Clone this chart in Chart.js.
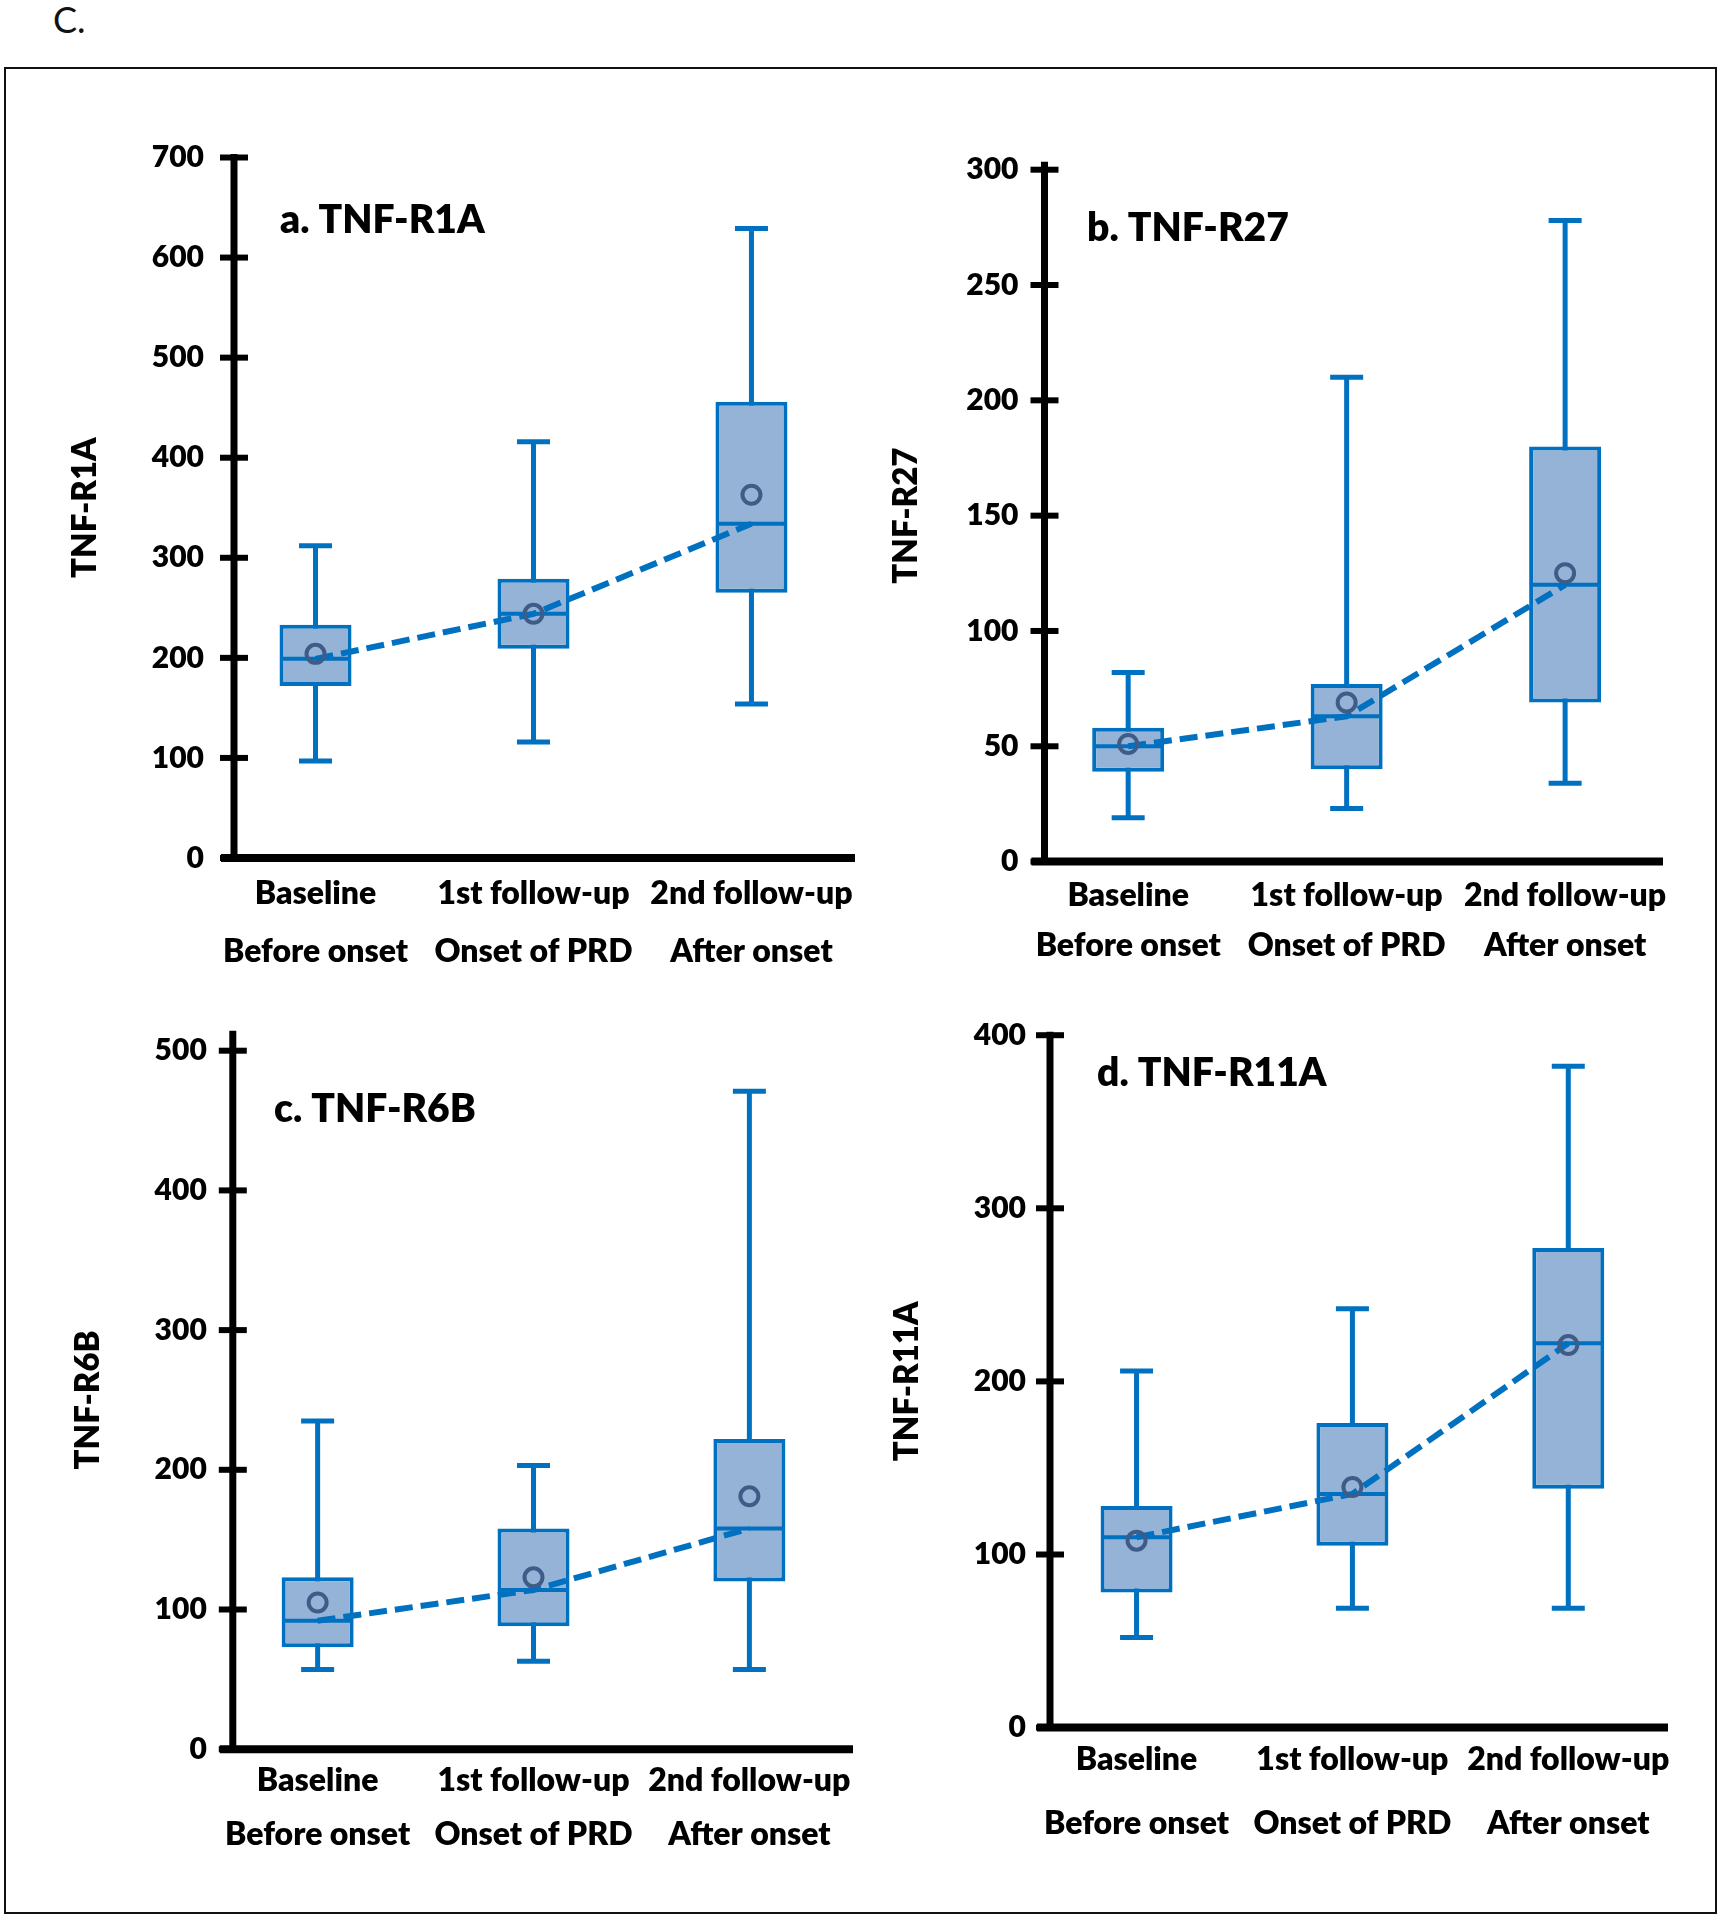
<!DOCTYPE html>
<html>
<head>
<meta charset="utf-8">
<title>TNF receptor box plots</title>
<script src="https://cdn.jsdelivr.net/npm/chart.js@4.4.1/dist/chart.umd.min.js"></script>
<style>
  body { margin: 0; background: #fff; }
  #page { position: relative; width: 1723px; height: 1920px; background: #fff; overflow: hidden; }
  .frame { position: absolute; left: 4px; top: 67px; width: 1713px; height: 1847px; border: 2.5px solid #111; box-sizing: border-box; }
  .fig-label { position: absolute; left: 53px; top: 1px; font: 36px/36px Lato, "Open Sans", sans-serif; color: #111; }
  canvas { position: absolute; }
</style>
</head>
<body>
<div id="page">
  <div class="fig-label">C.</div>
  <div class="frame"></div>
  <canvas id="chartA"></canvas>
  <canvas id="chartB"></canvas>
  <canvas id="chartC"></canvas>
  <canvas id="chartD"></canvas>
</div>
<script>
/* =========================================================
   DATA
========================================================= */
const categories = [
    ['Baseline', 'Before onset'],
    ['1st follow-up', 'Onset of PRD'],
    ['2nd follow-up', 'After onset']
];

// a. TNF-R1A
const r1aMin    = [97, 116, 154];
const r1aQ1     = [172, 209, 265];
const r1aMedian = [199, 244, 334];
const r1aQ3     = [233, 279, 456];
const r1aMax    = [312, 416, 629];
const r1aMean   = [204, 244, 363];
const r1aTicks  = [0, 100, 200, 300, 400, 500, 600, 700];

// b. TNF-R27
const r27Min    = [19, 23, 34];
const r27Q1     = [39, 40, 69];
const r27Median = [50, 63, 120];
const r27Q3     = [58, 77, 180];
const r27Max    = [82, 210, 278];
const r27Mean   = [51, 69, 125];
const r27Ticks  = [0, 50, 100, 150, 200, 250, 300];

// c. TNF-R6B
const r6bMin    = [57, 63, 57];
const r6bQ1     = [73, 88, 120];
const r6bMedian = [92, 114, 158];
const r6bQ3     = [123, 158, 222];
const r6bMax    = [235, 203, 471];
const r6bMean   = [105, 123, 181];
const r6bTicks  = [0, 100, 200, 300, 400, 500];

// d. TNF-R11A
const r11aMin    = [52, 69, 69];
const r11aQ1     = [78, 105, 138];
const r11aMedian = [110, 135, 222];
const r11aQ3     = [128, 176, 277];
const r11aMax    = [206, 242, 382];
const r11aMean   = [108, 139, 221];
const r11aTicks  = [0, 100, 200, 300, 400];

/* =========================================================
   STYLE
========================================================= */
const BLUE = '#0070c0';
const BOX_FILL = '#95b3d7';
const MEAN_COLOR = '#3f5b87';
const FONT = 'Lato, "Open Sans", sans-serif';
const WEIGHT = '800';

Chart.defaults.font.family = FONT;
Chart.defaults.color = '#000';

// layout of each panel in page pixels
const panels = [
    {
        id: 'chartA', title: 'a. TNF-R1A', yTitle: 'TNF-R1A',
        min: r1aMin, q1: r1aQ1, median: r1aMedian, q3: r1aQ3, max: r1aMax, mean: r1aMean, ticks: r1aTicks,
        canvas: [10, 75, 900, 910], area: [234, 157.5, 855, 858], xRange: [-0.374, 2.475],
        titleAt: [280, 220], yTitleX: 85.5, tickPad: 30, labelPad: 7, lineH: 57.5, overhang: 3.5
    },
    {
        id: 'chartB', title: 'b. TNF-R27', yTitle: 'TNF-R27',
        min: r27Min, q1: r27Q1, median: r27Median, q3: r27Q3, max: r27Max, mean: r27Mean, ticks: r27Ticks,
        canvas: [875, 75, 845, 910], area: [1044.5, 169.7, 1663, 861.6], xRange: [-0.383, 2.448],
        titleAt: [1087, 228], yTitleX: 906.5, tickPad: 26, labelPad: 9, lineH: 50, overhang: 8
    },
    {
        id: 'chartC', title: 'c. TNF-R6B', yTitle: 'TNF-R6B',
        min: r6bMin, q1: r6bQ1, median: r6bMedian, q3: r6bQ3, max: r6bMax, mean: r6bMean, ticks: r6bTicks,
        canvas: [10, 990, 900, 915], area: [232.8, 1050.7, 853, 1749.2], xRange: [-0.393, 2.480],
        titleAt: [274, 1109], yTitleX: 88, tickPad: 26, labelPad: 4, lineH: 54, overhang: 20
    },
    {
        id: 'chartD', title: 'd. TNF-R11A', yTitle: 'TNF-R11A',
        min: r11aMin, q1: r11aQ1, median: r11aMedian, q3: r11aQ3, max: r11aMax, mean: r11aMean, ticks: r11aTicks,
        canvas: [875, 990, 845, 915], area: [1050, 1035.2, 1668, 1727.6], xRange: [-0.401, 2.462],
        titleAt: [1097, 1073], yTitleX: 907, tickPad: 24, labelPad: 0, lineH: 64, overhang: 3.5
    }
];

/* =========================================================
   PLUGIN: axes with crossing ticks + panel title
========================================================= */
const panelDecor = {
    id: 'panelDecor',
    afterDatasetsDraw(chart, args, opts) {
        const { ctx, chartArea: ca, scales: { y } } = chart;
        ctx.save();
        ctx.strokeStyle = '#000';
        ctx.lineCap = 'butt';

        // y axis
        ctx.lineWidth = 7;
        ctx.beginPath();
        ctx.moveTo(ca.left, y.getPixelForValue(y.max) - opts.overhang);
        ctx.lineTo(ca.left, ca.bottom);
        ctx.stroke();

        // tick marks across the axis
        ctx.lineWidth = 6;
        y.ticks.forEach(t => {
            const py = y.getPixelForValue(t.value);
            ctx.beginPath();
            ctx.moveTo(ca.left - 14, py);
            ctx.lineTo(ca.left + 14, py);
            ctx.stroke();
        });

        // x axis
        ctx.lineWidth = 8;
        ctx.beginPath();
        ctx.moveTo(ca.left - 13, ca.bottom);
        ctx.lineTo(ca.right, ca.bottom);
        ctx.stroke();

        // panel title
        ctx.fillStyle = '#000';
        ctx.font = WEIGHT + ' 39px ' + FONT;
        ctx.textAlign = 'left';
        ctx.textBaseline = 'middle';
        ctx.fillText(opts.title, opts.x, opts.y);
        ctx.restore();
    }
};

/* =========================================================
   BUILD CHARTS
========================================================= */
panels.forEach(p => {
    const [cl, ct, cw, chh] = p.canvas;
    const [al, at, ar, ab] = p.area;
    const canvas = document.getElementById(p.id);
    canvas.width = cw;
    canvas.height = chh;
    canvas.style.left = cl + 'px';
    canvas.style.top = ct + 'px';

    const idx = [0, 1, 2];
    const pts = arr => idx.map(i => ({ x: i, y: arr[i] }));
    const titleFont = { size: 33, weight: WEIGHT, lineHeight: 1.2 };

    new Chart(canvas, {
        type: 'bar',
        data: {
            datasets: [
                {   // means
                    type: 'scatter',
                    data: pts(p.mean),
                    pointStyle: 'circle',
                    pointRadius: 9,
                    borderWidth: 4,
                    borderColor: MEAN_COLOR,
                    backgroundColor: 'rgba(0,0,0,0)',
                    order: 0
                },
                {   // dashed trend through medians
                    type: 'line',
                    data: pts(p.median),
                    borderColor: BLUE,
                    borderWidth: 6,
                    borderDash: [18, 8],
                    pointRadius: 0,
                    fill: false,
                    tension: 0,
                    order: 1
                },
                {   // whisker caps
                    type: 'scatter',
                    data: pts(p.min).concat(pts(p.max)),
                    pointStyle: 'line',
                    pointRadius: 16.5,
                    borderWidth: 5,
                    borderColor: BLUE,
                    order: 2
                },
                {   // median lines
                    type: 'scatter',
                    data: pts(p.median),
                    pointStyle: 'line',
                    pointRadius: 34,
                    borderWidth: 4,
                    borderColor: BLUE,
                    order: 3
                },
                {   // boxes
                    type: 'bar',
                    data: idx.map(i => ({ x: i, y: [p.q1[i], p.q3[i]] })),
                    backgroundColor: BOX_FILL,
                    borderColor: BLUE,
                    borderWidth: 4,
                    borderSkipped: false,
                    grouped: false,
                    maxBarThickness: 72,
                    order: 4
                },
                {   // whiskers
                    type: 'bar',
                    data: idx.map(i => ({ x: i, y: [p.min[i], p.max[i]] })),
                    backgroundColor: BLUE,
                    borderWidth: 0,
                    grouped: false,
                    maxBarThickness: 5,
                    order: 5
                }
            ]
        },
        options: {
            responsive: false,
            animation: false,
            events: [],
            layout: {
                padding: { left: 0, top: at - ct, right: (cl + cw) - ar, bottom: 0 }
            },
            plugins: {
                legend: { display: false },
                tooltip: { enabled: false },
                panelDecor: { title: p.title, x: p.titleAt[0] - cl, y: p.titleAt[1] - ct, overhang: p.overhang }
            },
            scales: {
                x: {
                    type: 'linear',
                    min: p.xRange[0],
                    max: p.xRange[1],
                    offset: false,
                    grid: { display: false, drawTicks: false, offset: false },
                    border: { display: false },
                    afterBuildTicks: s => { s.ticks = idx.map(v => ({ value: v })); },
                    afterFit: s => {
                        s.height = (ct + chh) - ab;
                        s.paddingLeft = 0;
                        s.paddingRight = 0;
                    },
                    ticks: {
                        autoSkip: false,
                        maxRotation: 0,
                        minRotation: 0,
                        padding: p.labelPad,
                        font: { size: 32, weight: WEIGHT, lineHeight: p.lineH / 32 },
                        color: '#000',
                        callback: v => categories[v]
                    }
                },
                y: {
                    type: 'linear',
                    min: p.ticks[0],
                    max: p.ticks[p.ticks.length - 1],
                    grid: { display: false, drawTicks: false },
                    border: { display: false },
                    afterBuildTicks: s => { s.ticks = p.ticks.map(v => ({ value: v })); },
                    afterFit: s => {
                        s.width = al - cl;
                        s.paddingTop = 0;
                        s.paddingBottom = 0;
                    },
                    ticks: {
                        padding: p.tickPad,
                        font: { size: 30, weight: WEIGHT },
                        color: '#000'
                    },
                    title: {
                        display: true,
                        text: p.yTitle,
                        color: '#000',
                        font: titleFont,
                        padding: { top: p.yTitleX - cl - 33 * 1.2 / 2, bottom: 0 }
                    }
                }
            }
        },
        plugins: [panelDecor]
    });
});
</script>
</body>
</html>
